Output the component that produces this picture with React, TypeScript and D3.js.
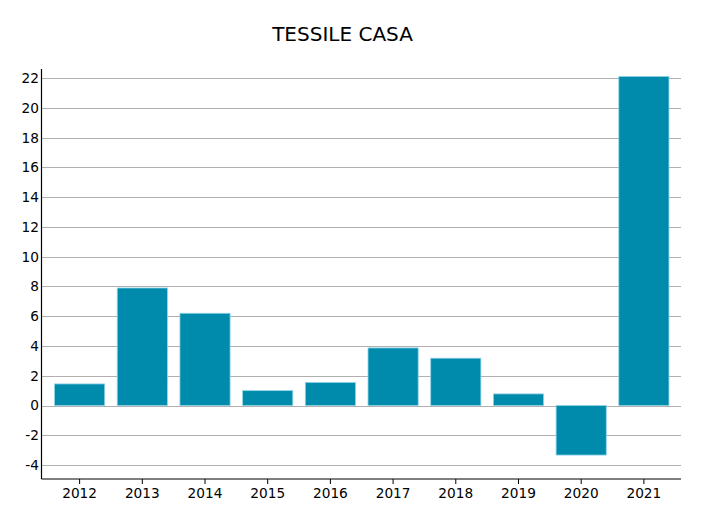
import React from "react";
import * as d3 from "d3";

const categories = ["2012", "2013", "2014", "2015", "2016", "2017", "2018", "2019", "2020", "2021"];
const values = [1.45, 7.9, 6.2, 1.0, 1.55, 3.87, 3.18, 0.78, -3.33, 22.12];
const yTicks = [-4, -2, 0, 2, 4, 6, 8, 10, 12, 14, 16, 18, 20, 22];
const title = "TESSILE CASA";

const W = 702;
const H = 511;
const left = 41.5;
const right = 681;
const top = 69;
const bottom = 479;

export default function App() {
  const x = d3.scaleBand<string>().domain(categories).range([left + 0.5, right + 0.5]).paddingInner(0.2).paddingOuter(0.2);
  const y = d3.scaleLinear().domain([-4.94, 22.62]).range([bottom, top]);
  const font = "DejaVu Sans, sans-serif";
  return (
    <svg width={W} height={H} style={{ position: "absolute", left: 0, top: 0 }}>
      <rect width={W} height={H} fill="#fff" />
      <text x={342.5} y={41} textAnchor="middle" fontFamily={font} fontSize={20} fill="#000">{title}</text>
      {yTicks.map((t) => (
        <g key={t}>
          <line x1={left} x2={right} y1={Math.round(y(t)) + 0.5} y2={Math.round(y(t)) + 0.5} stroke="#b0b0b0" strokeWidth={1} />
          <text x={39} y={y(t)} dy="0.36em" textAnchor="end" fontFamily={font} fontSize={13.7} fill="#000">{t}</text>
        </g>
      ))}
      {categories.map((c, i) => {
        const v = values[i];
        const y0 = y(Math.max(0, v));
        const h = Math.abs(y(v) - y(0));
        return (
          <rect key={c} x={x(c)} y={y0} width={x.bandwidth()} height={h} fill="#008bac" stroke="#8fd3e6" strokeWidth={0.8} />
        );
      })}
      <line x1={left} x2={left} y1={top} y2={bottom} stroke="#000" strokeWidth={1.2} />
      <line x1={left} x2={right} y1={bottom} y2={bottom} stroke="#000" strokeWidth={1.2} />
      {categories.map((c) => {
        const cx = (x(c) as number) + x.bandwidth() / 2;
        return (
          <g key={c}>
            <line x1={cx} x2={cx} y1={bottom} y2={bottom + 5} stroke="#000" strokeWidth={1} />
            <text x={cx} y={498} textAnchor="middle" fontFamily={font} fontSize={13.7} fill="#000">{c}</text>
          </g>
        );
      })}
    </svg>
  );
}
